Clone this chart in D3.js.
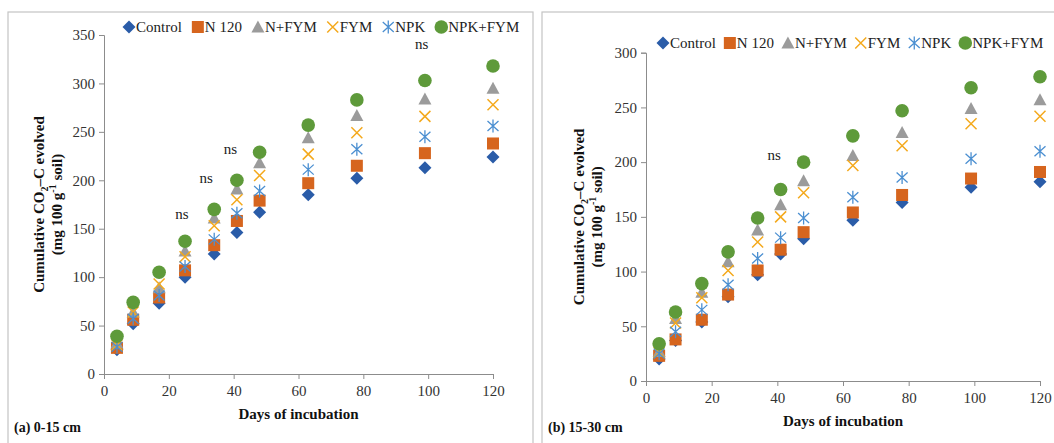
<!DOCTYPE html>
<html>
<head>
<meta charset="utf-8">
<script src="https://cdn.jsdelivr.net/npm/d3@7"></script>
<style>
  body { margin: 0; background: #fff; }
  svg { font-family: "Liberation Serif", "Times New Roman", serif; }
</style>
</head>
<body>
<svg id="chart" width="1054" height="443"></svg>
<script>
// days of incubation
var days = [4, 9, 17, 25, 34, 41, 48, 63, 78, 99, 120];
var seriesNames = ["Control", "N 120", "N+FYM", "FYM", "NPK", "NPK+FYM"];

// (a) 0-15 cm
var controlA = [25, 52, 73, 100, 124, 146, 167, 185, 202, 213, 224];
var n120A    = [27, 56, 79, 107, 133, 158, 179, 197, 215, 228, 238];
var nfymA    = [32, 64, 89, 127, 161, 191, 218, 244, 267, 284, 295];
var fymA     = [30, 64, 93, 121, 153, 180, 205, 227, 249, 266, 278];
var npkA     = [28, 57, 81, 111, 139, 166, 189, 211, 232, 245, 256];
var npkfymA  = [39, 74, 105, 137, 170, 200, 229, 257, 283, 303, 318];
var nsA = [[24, 160], [31.5, 197], [39, 227], [98, 336]];

// (b) 15-30 cm
var controlB = [20, 37, 54, 77, 97, 116, 130, 147, 163, 177, 182];
var n120B    = [23, 38, 56, 79, 101, 120, 136, 154, 170, 185, 191];
var nfymB    = [27, 57, 81, 109, 138, 161, 183, 206, 227, 249, 257];
var fymB     = [26, 53, 76, 101, 127, 150, 172, 197, 215, 235, 242];
var npkB     = [25, 45, 65, 88, 112, 131, 149, 168, 186, 203, 210];
var npkfymB  = [34, 63, 89, 118, 149, 175, 200, 224, 247, 268, 278];
var nsB = [[39, 202]];

var ticksA = [0, 50, 100, 150, 200, 250, 300, 350];
var ticksB = [0, 50, 100, 150, 200, 250, 300];
var xTicks = [0, 20, 40, 60, 80, 100, 120];

var colors = ["#2A5CA8", "#D6651E", "#9B9B9B", "#F4A91C", "#4B8FD1", "#5E9A3A"];
var shapes = ["diamond", "square", "triangle", "cross", "asterisk", "circle"];

var svg = d3.select("#chart");

function drawMarker(g, shape, color) {
  if (shape == "diamond") {
    g.append("path").attr("d", "M0,-6.5L6.5,0L0,6.5L-6.5,0Z").attr("fill", color);
  } else if (shape == "square") {
    g.append("rect").attr("x", -6).attr("y", -6).attr("width", 12).attr("height", 12).attr("fill", color);
  } else if (shape == "triangle") {
    g.append("path").attr("d", "M0,-6.5L6.5,5.5L-6.5,5.5Z").attr("fill", color);
  } else if (shape == "cross") {
    g.append("path").attr("d", "M-5.5,-5.5L5.5,5.5M5.5,-5.5L-5.5,5.5")
      .attr("stroke", color).attr("stroke-width", 1.5).attr("fill", "none");
  } else if (shape == "asterisk") {
    g.append("path").attr("d", "M0,-6.5L0,6.5M-5.5,-5L5.5,5M5.5,-5L-5.5,5")
      .attr("stroke", color).attr("stroke-width", 1.3).attr("fill", "none");
  } else {
    g.append("circle").attr("r", 6.8).attr("fill", color);
  }
}

function drawPanel(p) {
  var x = d3.scaleLinear().domain([0, 120]).range([p.left, p.right]);
  var y = d3.scaleLinear().domain([0, p.yMax]).range([p.bottom, p.top]);
  var g = svg.append("g");

  // frame
  g.append("rect").attr("x", p.frame[0]).attr("y", p.frame[1])
    .attr("width", p.frame[2]).attr("height", 500)
    .attr("fill", "none").attr("stroke", "#c4c4c4").attr("stroke-width", 1.2);

  var xAxis = g.append("g").attr("transform", "translate(0," + p.bottom + ")")
    .call(d3.axisBottom(x).tickValues(xTicks).tickSize(5).tickPadding(6));
  var yAxis = g.append("g").attr("transform", "translate(" + p.left + ",0)")
    .call(d3.axisLeft(y).tickValues(p.yTicks).tickSize(5).tickPadding(4));
  [xAxis, yAxis].forEach(function(a) {
    a.select(".domain").attr("stroke", "#8c8c8c");
    a.selectAll(".tick line").attr("stroke", "#8c8c8c");
    a.selectAll(".tick text").attr("font-family", "Liberation Serif").attr("font-size", 15).attr("fill", "#333");
  });

  // points
  p.series.forEach(function(vals, si) {
    days.forEach(function(d, i) {
      var m = g.append("g").attr("transform", "translate(" + x(d) + "," + y(vals[i]) + ")");
      drawMarker(m, shapes[si], colors[si]);
    });
  });

  // ns labels
  p.ns.forEach(function(n) {
    g.append("text").attr("x", x(n[0])).attr("y", y(n[1]))
      .attr("text-anchor", "middle").attr("font-size", 15).attr("fill", "#222").text("ns");
  });

  // axis titles
  g.append("text").attr("x", (p.left + p.right) / 2).attr("y", p.bottom + 45)
    .attr("text-anchor", "middle").attr("font-weight", "bold").attr("font-size", 15)
    .attr("fill", "#111").text("Days of incubation");

  var cy = (p.top + p.bottom) / 2;
  var t1 = g.append("text").attr("transform", "translate(" + p.ylabX + "," + cy + ") rotate(-90)")
    .attr("text-anchor", "middle").attr("font-weight", "bold").attr("font-size", 15).attr("fill", "#111");
  t1.append("tspan").text("Cumulative CO");
  t1.append("tspan").attr("font-size", 10).attr("dy", 4).text("2");
  t1.append("tspan").attr("dy", -4).text("\u2013C evolved");
  var t2 = g.append("text").attr("transform", "translate(" + (p.ylabX + 18) + "," + cy + ") rotate(-90)")
    .attr("text-anchor", "middle").attr("font-weight", "bold").attr("font-size", 15).attr("fill", "#111");
  t2.append("tspan").text("(mg 100 g");
  t2.append("tspan").attr("font-size", 10).attr("dy", -6).text("-1");
  t2.append("tspan").attr("dy", 6).text(" soil)");

  g.append("text").attr("x", p.frame[0] + 6).attr("y", 432)
    .attr("font-weight", "bold").attr("font-size", 14).attr("fill", "#111").text(p.caption);

  // legend
  var lx = p.legendX;
  seriesNames.forEach(function(name, si) {
    var m = g.append("g").attr("transform", "translate(" + lx + "," + p.legendY + ")");
    drawMarker(m, shapes[si], colors[si]);
    var t = g.append("text").attr("x", lx + 7).attr("y", p.legendY + 5)
      .attr("font-size", 15).attr("fill", "#222").text(name);
    lx += 7 + t.node().getComputedTextLength() + p.legendGap;
  });
}

drawPanel({
  left: 104, right: 493, top: 35, bottom: 374, yMax: 350, yTicks: ticksA,
  series: [controlA, n120A, nfymA, fymA, npkA, npkfymA], ns: nsA,
  frame: [8, 12, 525], ylabX: 44, caption: "(a) 0-15 cm",
  legendX: 129, legendY: 27, legendGap: 16
});

drawPanel({
  left: 646, right: 1040, top: 52.7, bottom: 381, yMax: 300, yTicks: ticksB,
  series: [controlB, n120B, nfymB, fymB, npkB, npkfymB], ns: nsB,
  frame: [542, 12, 530], ylabX: 584, caption: "(b) 15-30 cm",
  legendX: 663, legendY: 43, legendGap: 14
});
</script>
</body>
</html>
